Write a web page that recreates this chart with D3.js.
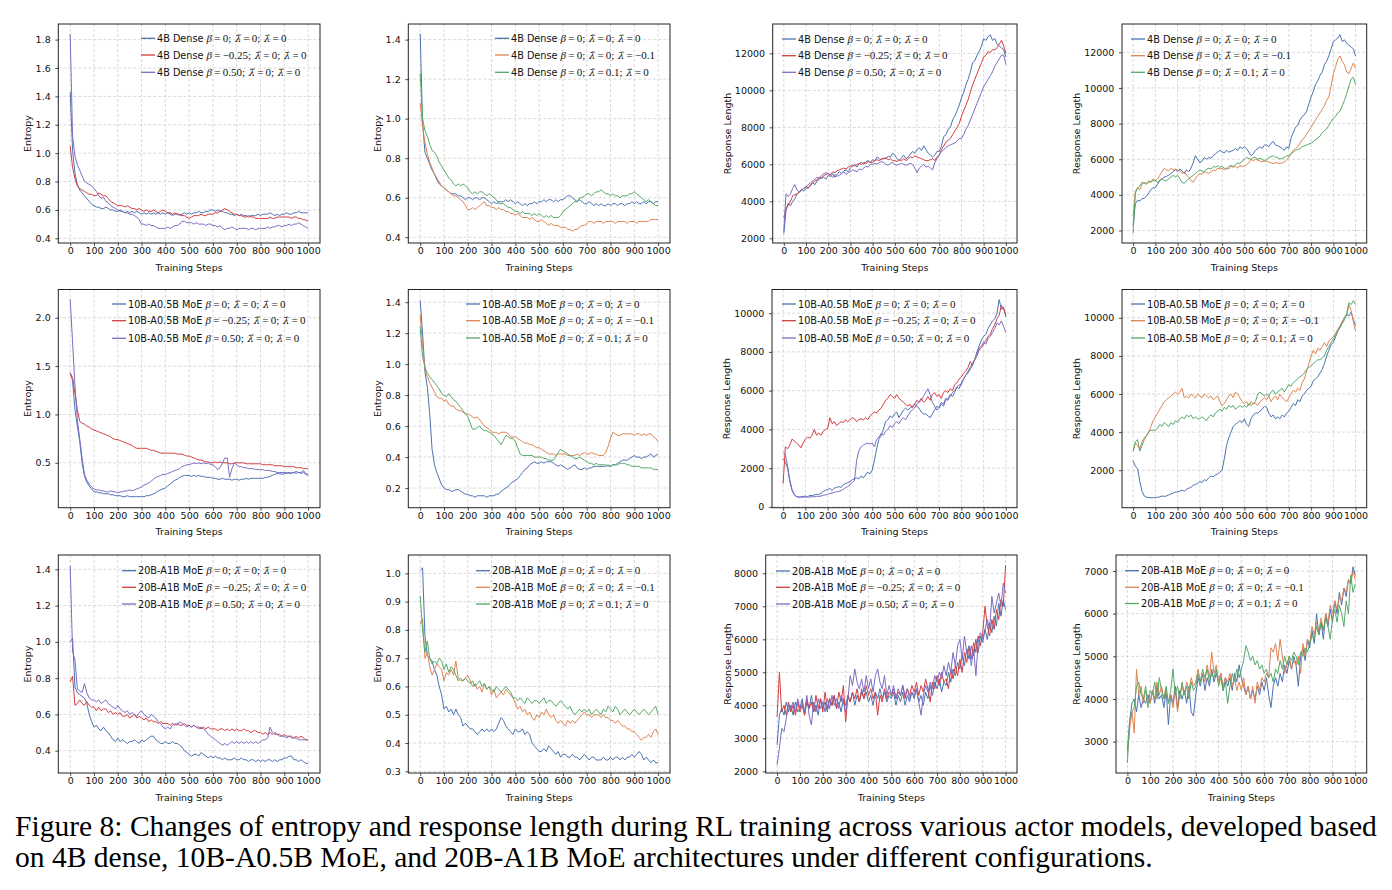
<!DOCTYPE html>
<html><head><meta charset="utf-8">
<script src="https://cdn.jsdelivr.net/npm/d3@7"></script>
<style>body{margin:0;background:#fff}svg{display:block}</style>
</head><body>
<svg id="c" width="1392" height="890"></svg>
<script>
const STEPS=[0,10,20,30,40,50,60,70,80,90,100,110,120,130,140,150,160,170,180,190,200,210,220,230,240,250,260,270,280,290,300,310,320,330,340,350,360,370,380,390,400,410,420,430,440,450,460,470,480,490,500,510,520,530,540,550,560,570,580,590,600,610,620,630,640,650,660,670,680,690,700,710,720,730,740,750,760,770,780,790,800,810,820,830,840,850,860,870,880,890,900,910,920,930,940,950,960,970,980,990,1000];
const X_TICKS=[0,100,200,300,400,500,600,700,800,900,1000];
const X_LABEL="Training Steps";
const MODELS=["4B Dense","10B-A0.5B MoE","20B-A1B MoE"];

// ---------- Row 1: 4B Dense ----------
const P1_BLUE=[1.43,1.02,.86,.78,.74,.72,.70,.68,.66,.64,
.63,.62,.62,.61,.61,.62,.61,.60,.60,.59,
.59,.60,.59,.58,.59,.58,.59,.58,.59,.58,
.57,.58,.57,.58,.57,.58,.57,.58,.57,.58,
.57,.58,.57,.56,.57,.57,.56,.57,.58,.57,
.58,.57,.58,.58,.59,.58,.58,.59,.59,.60,
.60,.59,.60,.59,.59,.58,.58,.57,.57,.56,
.57,.56,.57,.56,.56,.55,.56,.56,.56,.57,
.56,.57,.57,.57,.58,.57,.56,.57,.56,.57,
.57,.58,.57,.57,.58,.58,.59,.58,.58,.58,.58];
const P1_RED=[1.05,.90,.82,.77,.75,.74,.73,.72,.71,.71,
.70,.70,.72,.71,.70,.70,.68,.66,.65,.64,
.63,.63,.63,.62,.63,.62,.61,.61,.60,.61,
.60,.59,.60,.59,.59,.60,.59,.58,.59,.60,
.59,.58,.58,.57,.58,.57,.57,.56,.56,.55,
.54,.55,.56,.56,.56,.57,.56,.56,.57,.57,
.57,.58,.58,.59,.60,.61,.60,.59,.58,.57,
.57,.56,.56,.55,.55,.56,.55,.55,.54,.54,
.54,.54,.54,.54,.55,.54,.54,.55,.55,.55,
.55,.55,.55,.54,.55,.55,.54,.54,.53,.53,.52];
const P1_PURPLE=[1.84,1.12,.98,.92,.88,.84,.80,.79,.78,.77,
.75,.73,.70,.68,.69,.66,.65,.63,.62,.61,
.60,.59,.59,.58,.58,.57,.57,.56,.55,.53,
.50,.50,.49,.50,.49,.49,.48,.47,.47,.47,
.47,.48,.47,.48,.49,.49,.50,.52,.52,.51,
.51,.51,.50,.51,.50,.50,.50,.49,.50,.50,
.49,.49,.48,.49,.47,.46,.47,.47,.48,.47,
.46,.47,.47,.47,.47,.46,.47,.47,.46,.47,
.47,.47,.47,.48,.47,.48,.48,.49,.49,.48,
.49,.49,.50,.49,.50,.50,.51,.50,.49,.48,.47];

const P2_BLUE=[1.43,.98,.83,.80,.77,.74,.72,.69,.67,.66,
.65,.64,.63,.62,.62,.62,.61,.61,.60,.59,
.60,.60,.59,.60,.60,.59,.60,.60,.59,.58,
.57,.58,.57,.58,.58,.58,.59,.58,.59,.58,
.57,.58,.57,.56,.57,.56,.57,.57,.58,.57,
.58,.58,.59,.58,.59,.59,.58,.59,.58,.59,
.59,.60,.61,.61,.60,.59,.58,.59,.58,.57,
.57,.58,.57,.56,.57,.56,.57,.56,.56,.57,
.56,.57,.57,.56,.57,.57,.56,.57,.57,.58,
.57,.58,.57,.57,.58,.57,.58,.58,.57,.58,.58];
const P2_ORANGE=[1.08,.96,.88,.82,.78,.75,.72,.70,.68,.66,
.65,.64,.63,.62,.61,.61,.60,.59,.58,.56,
.54,.54,.55,.54,.55,.56,.57,.58,.56,.56,
.55,.55,.54,.55,.54,.54,.53,.53,.52,.52,
.51,.52,.51,.50,.50,.50,.49,.50,.49,.48,
.48,.49,.48,.47,.46,.47,.46,.46,.46,.45,
.45,.45,.44,.44,.43,.44,.44,.45,.46,.46,
.47,.48,.48,.47,.48,.48,.48,.47,.48,.48,
.48,.48,.47,.48,.48,.48,.48,.47,.48,.48,
.48,.47,.48,.48,.48,.48,.48,.49,.49,.49,.49];
const P2_GREEN=[1.23,1.00,.94,.91,.87,.84,.83,.81,.78,.76,
.74,.72,.70,.69,.67,.66,.67,.66,.67,.66,
.65,.63,.62,.63,.62,.63,.63,.62,.61,.62,
.61,.60,.59,.57,.57,.57,.56,.55,.55,.54,
.53,.53,.52,.53,.52,.52,.52,.51,.52,.51,
.52,.51,.50,.51,.50,.51,.50,.50,.50,.51,
.53,.54,.55,.56,.57,.58,.58,.60,.60,.61,
.62,.62,.61,.62,.63,.63,.64,.63,.62,.62,
.61,.62,.61,.61,.60,.61,.61,.61,.62,.62,
.63,.62,.61,.60,.59,.58,.59,.58,.57,.56,.56];

const P3_BLUE=[2250,3500,3900,3750,4000,4150,4400,4500,4650,4550,
4700,4750,4850,5000,4900,5100,5200,5250,5300,5200,
5400,5350,5500,5300,5450,5600,5500,5650,5700,5600,
5800,5900,6000,5850,6050,6100,6000,6150,6200,6100,
6250,6200,6400,6300,6250,6350,6300,6450,6400,6600,
6500,6300,6200,6350,6500,6300,6400,6550,6700,6600,
6800,6900,6750,7000,6800,6600,6500,6400,6500,6700,
6700,7000,7500,7600,7900,8000,8400,8600,8900,9200,
9600,9900,10300,10600,11000,11500,11600,11900,12100,12400,
12800,12700,12900,13000,12700,12800,12500,12400,12300,12200,11800];
const P3_RED=[3100,3600,3800,4000,4300,4350,4400,4500,4600,4700,
4800,4700,4900,5000,5100,5150,5300,5250,5400,5450,
5500,5450,5600,5550,5650,5700,5750,5800,5750,5850,
5900,5950,5900,6000,6050,6000,6100,6050,6150,6100,
6100,6200,6250,6200,6300,6300,6350,6250,6300,6200,
6200,6150,6250,6200,6300,6200,6300,6400,6350,6450,
6400,6350,6300,6250,6200,6200,6250,6300,6200,6400,
6500,6800,7000,7200,7300,7400,7600,7800,8000,8200,
8600,8900,9200,9500,9900,10300,10600,10900,11200,11500,
11800,11900,12100,12050,12200,12200,12300,12500,12700,12400,12000];
const P3_PURPLE=[2400,4400,4250,4400,4700,4900,4600,4500,4600,4700,
4750,4900,5000,5100,5200,5300,5250,5400,5500,5550,
5500,5400,5300,5450,5350,5400,5500,5600,5450,5550,
5600,5700,5650,5600,5750,5700,5800,5900,5850,6000,
6000,6050,6000,6100,6150,6100,6000,5950,6050,6100,
6000,5950,6000,6050,6000,5950,6000,6050,6000,5800,
5550,5800,5900,6000,5850,5900,5800,5700,6100,6300,
6500,6700,6800,6900,7000,7050,7100,7150,7250,7400,
7400,7600,7900,8100,8400,8700,9000,9300,9600,9900,
10200,10400,10600,10800,11000,11300,11500,11700,11900,11900,11400];

const P4_BLUE=[2300,3500,3700,3650,3800,3800,3950,4100,4300,4400,
4400,4600,4800,4900,5000,5050,5100,5200,5300,5400,
5300,5450,5350,5200,5400,5300,5500,5800,6200,6000,
5800,5900,6100,6000,6100,6050,6200,6300,6400,6500,
6400,6350,6500,6400,6450,6500,6600,6500,6700,6600,
6700,6600,6400,6200,6300,6500,6600,6700,6600,6800,
6800,6700,6900,7000,6800,6750,6700,6600,6500,6700,
6600,7200,7500,7800,7900,8200,8400,8500,8700,9100,
9500,9800,10200,10400,10700,10900,11300,11500,11800,12200,
12600,12700,12800,13000,12600,12700,12500,12400,12300,12200,11800];
const P4_ORANGE=[2800,4200,4400,4300,4600,4700,4650,4800,4700,4900,
4800,4900,5100,5300,5500,5400,5350,5500,5400,5450,
5400,5350,5200,5300,5100,5000,4800,4700,4900,5100,
5200,5150,5300,5250,5200,5300,5400,5350,5500,5450,
5500,5400,5500,5450,5600,5550,5600,5500,5650,5600,
5600,5700,5800,6000,5900,6000,5950,5900,5850,5900,
5900,5850,5800,5750,5800,5800,5750,5800,5850,5950,
6100,6300,6500,6600,6700,6900,7100,7200,7400,7600,
7800,8000,8200,8400,8600,8800,9000,9300,9500,10100,
10800,11200,11600,11800,11500,11300,10900,10800,11100,11400,11100];
const P4_GREEN=[1850,4100,4400,4500,4700,4650,4600,4700,4750,4800,
4800,4700,4850,4900,4800,4800,4900,5000,5100,5000,
5100,4900,4700,4650,4800,4900,5000,5100,5200,5300,
5400,5350,5300,5450,5500,5450,5600,5550,5650,5550,
5600,5500,5450,5600,5650,5600,5700,5800,5750,5900,
6000,6100,6050,6000,6100,6100,6000,6050,6000,5900,
6000,6100,6150,6200,6100,6100,6000,6050,6100,6200,
6200,6300,6400,6500,6550,6600,6700,6750,6800,6850,
6900,7000,7100,7200,7300,7500,7600,7700,7900,8100,
8300,8400,8600,8700,9000,9300,9700,10100,10500,10600,10200];

// ---------- Row 2: 10B-A0.5B MoE ----------
const P5_BLUE=[1.43,1.35,1.05,.88,.72,.50,.36,.30,.26,.23,
.20,.20,.19,.19,.18,.18,.18,.17,.17,.16,
.16,.16,.15,.15,.16,.15,.15,.15,.15,.15,
.15,.15,.16,.16,.17,.18,.19,.21,.22,.23,
.24,.26,.28,.30,.32,.33,.35,.36,.37,.37,
.37,.36,.37,.36,.37,.36,.36,.35,.35,.35,
.34,.34,.33,.33,.34,.33,.33,.33,.32,.33,
.33,.32,.33,.33,.34,.33,.34,.34,.34,.34,
.34,.34,.35,.35,.36,.37,.38,.39,.39,.38,
.39,.39,.40,.39,.40,.41,.40,.40,.42,.39,.38];
const P5_RED=[1.43,1.38,1.22,1.05,.93,.91,.90,.88,.87,.85,
.84,.83,.82,.81,.80,.79,.78,.77,.75,.74,
.74,.73,.72,.71,.70,.69,.68,.66,.65,.65,
.65,.65,.65,.64,.63,.63,.62,.61,.60,.60,
.60,.60,.60,.60,.60,.59,.59,.59,.58,.57,
.57,.56,.55,.54,.53,.53,.52,.51,.51,.50,
.50,.51,.50,.51,.50,.50,.50,.49,.49,.50,
.50,.50,.50,.50,.49,.49,.49,.49,.49,.49,
.49,.48,.48,.48,.48,.48,.47,.47,.47,.47,
.46,.46,.46,.46,.46,.45,.45,.45,.44,.44,.44];
const P5_PURPLE=[2.19,1.75,1.30,.95,.75,.55,.38,.32,.28,.25,
.23,.22,.22,.21,.21,.20,.20,.21,.20,.20,
.19,.20,.20,.21,.21,.22,.21,.22,.23,.24,
.25,.27,.28,.29,.31,.33,.35,.36,.37,.38,
.38,.39,.40,.41,.42,.43,.44,.46,.47,.48,
.48,.49,.50,.49,.50,.49,.50,.49,.50,.48,
.48,.46,.43,.45,.50,.55,.55,.35,.44,.50,
.48,.46,.46,.45,.45,.44,.44,.44,.43,.43,
.43,.43,.42,.42,.42,.41,.41,.40,.40,.40,
.40,.40,.39,.40,.40,.39,.40,.39,.40,.38,.37];

const P6_BLUE=[1.41,1.20,.95,.85,.68,.45,.35,.30,.26,.22,
.20,.19,.19,.18,.18,.19,.19,.18,.17,.16,
.16,.15,.15,.14,.15,.15,.15,.15,.14,.15,
.15,.15,.16,.16,.18,.19,.20,.21,.23,.24,
.25,.26,.28,.30,.32,.33,.35,.36,.37,.36,
.36,.37,.36,.37,.37,.37,.36,.35,.34,.35,
.34,.33,.32,.33,.34,.35,.33,.32,.32,.33,
.32,.33,.33,.34,.34,.34,.34,.34,.34,.35,
.34,.35,.35,.36,.37,.38,.38,.38,.39,.40,
.41,.40,.40,.39,.40,.40,.41,.42,.40,.41,.42];
const P6_ORANGE=[1.32,1.12,.97,.92,.88,.85,.82,.79,.78,.78,
.76,.77,.74,.73,.73,.71,.70,.70,.69,.68,
.68,.67,.66,.65,.66,.64,.62,.60,.59,.58,
.56,.56,.56,.55,.56,.56,.56,.55,.53,.53,
.53,.52,.51,.50,.49,.49,.48,.48,.47,.46,
.46,.45,.44,.43,.42,.42,.42,.41,.42,.42,
.42,.42,.41,.41,.41,.41,.42,.41,.42,.43,
.42,.42,.43,.42,.42,.41,.41,.41,.43,.47,
.52,.56,.55,.54,.54,.55,.55,.55,.55,.55,
.54,.55,.55,.54,.55,.54,.55,.55,.53,.52,.50];
const P6_GREEN=[1.24,1.05,.98,.94,.92,.90,.88,.86,.84,.81,
.80,.79,.81,.79,.77,.76,.74,.72,.70,.68,
.66,.62,.58,.58,.59,.60,.58,.57,.57,.56,
.55,.54,.52,.50,.48,.51,.54,.53,.52,.52,
.50,.46,.42,.41,.41,.41,.41,.41,.40,.40,
.40,.40,.39,.39,.38,.38,.38,.40,.43,.45,
.44,.43,.42,.41,.40,.39,.39,.40,.39,.38,
.37,.36,.36,.35,.36,.35,.35,.35,.35,.34,
.34,.35,.35,.35,.36,.36,.36,.35,.35,.34,
.34,.34,.34,.33,.33,.33,.33,.33,.32,.32,.32];

const P7_BLUE=[2500,2300,2000,1300,850,620,520,500,520,540,
560,520,600,580,620,650,640,700,800,850,
900,950,850,980,1000,1050,1000,1150,1200,1250,
1300,1400,1450,1500,1450,1600,1500,1650,1800,1700,
1900,2400,3000,3500,3700,4000,4400,4500,4700,4600,
4800,4900,4600,4800,5000,5100,5000,5100,5200,5300,
5200,5100,4900,4800,4800,4700,4600,4800,5000,5200,
5100,5400,5300,5600,5500,5800,5700,5900,6200,6100,
6400,6600,6800,7000,7200,7400,7600,8000,8300,8600,
8800,8900,9200,9400,9600,9700,10000,10700,10200,10300,9800];
const P7_RED=[1200,3100,3000,3200,3500,3400,3300,3200,3050,3300,
3500,3600,3550,3700,4000,3700,3800,3700,3900,4000,
4050,4600,4300,4400,4200,4300,4400,4350,4500,4400,
4500,4600,4550,4400,4500,4550,4500,4600,4500,4700,
4800,4900,4850,5000,5100,5300,5500,5600,5800,5700,
5600,5800,5600,5500,5400,5300,5200,5300,5100,5300,
5500,5400,5600,5400,5500,5700,5500,5800,5900,5700,
5800,5600,5900,6000,5900,6100,6000,6300,6400,6600,
6700,6900,7000,7200,7500,7300,7600,7800,8100,8200,
8400,8600,8800,8900,9200,9400,9700,9900,10400,10200,9900];
const P7_PURPLE=[2800,2700,2100,1400,900,650,550,520,500,510,
500,520,510,530,520,550,540,560,600,620,
650,700,720,750,780,800,850,900,1000,1050,
1150,1250,1350,2400,2900,3100,3200,3250,3300,3250,
3300,3100,3500,3600,3800,3700,3900,4000,4200,4100,
4300,4400,4300,4500,4600,4500,4700,4900,5000,5100,
5300,5400,5500,5700,5900,6100,5800,5400,5200,5000,
5100,5300,5200,5500,5600,5700,5900,6000,6200,6300,
6300,6600,6800,6900,7100,7300,7600,7800,8200,8300,
8500,8400,8700,8800,9000,9200,9500,9400,9600,9300,9000];

const P8_BLUE=[2500,2200,2100,1400,900,650,580,560,550,560,
550,580,600,650,620,650,700,750,800,850,
850,900,950,900,1000,1050,1100,1200,1250,1300,
1400,1350,1500,1450,1600,1700,1650,1750,1800,1900,
2000,2600,3300,3700,4000,4300,4400,4500,4600,4500,
4700,4400,4300,4700,4900,5000,5000,5100,5200,5350,
5300,5000,4800,4900,4700,4800,4700,4900,4800,5000,
5100,5300,5500,5400,5700,5600,5900,6000,6200,6300,
6400,6700,6800,6900,7100,7300,7600,8000,8300,8600,
8700,9000,9300,9500,9800,10000,10200,10100,10300,9900,9600];
const P8_ORANGE=[3000,3400,3300,3100,3500,3700,3800,4000,4300,4600,
4800,5000,5200,5400,5600,5700,5800,5900,6000,6100,
6000,6100,6300,5800,5900,5800,6000,5900,5800,6000,
5900,5800,6000,5900,5800,5900,5700,5800,5900,5600,
5400,5500,5700,5900,6000,5800,6100,6000,5800,5600,
5500,5600,5400,5600,5500,5500,5400,5600,5700,5800,
5700,5900,5600,5800,5900,5700,6000,5800,5700,5600,
5800,6000,6200,6100,6300,6200,6600,6800,7200,7600,
8000,8300,8100,8400,8300,8500,8700,8500,8800,8900,
9000,9200,9400,9600,9800,10000,10100,10700,10400,9800,9300];
const P8_GREEN=[3000,3500,3600,3000,3300,3600,3800,4000,4100,4100,
4100,4200,4400,4300,4500,4400,4300,4500,4400,4600,
4500,4700,4800,4700,4900,4800,4900,4700,4800,4700,
4700,4800,4700,4600,4800,4900,4800,5000,5100,5200,
5100,5300,5200,5400,5300,5400,5200,5300,5400,5300,
5400,5300,5500,5400,5500,5600,6000,6100,6000,5900,
6000,5900,6100,6200,6000,6100,6200,6300,6100,6300,
6500,6400,6600,6700,6800,6900,7000,7100,7300,7400,
7500,7600,7700,7800,7800,7900,8000,8300,8500,8700,
8900,9100,9300,9500,9700,9900,10200,10800,10700,10900,10700];

// ---------- Row 3: 20B-A1B MoE ----------
const P9_BLUE=[1.00,1.02,.75,.72,.71,.70,.69,.66,.60,.56,
.53,.54,.52,.51,.53,.51,.50,.48,.46,.45,
.47,.45,.46,.45,.44,.45,.45,.46,.45,.44,
.46,.45,.46,.47,.48,.48,.46,.45,.44,.44,
.45,.44,.44,.45,.44,.44,.43,.42,.40,.39,
.38,.37,.38,.38,.37,.39,.38,.37,.36,.37,
.36,.37,.36,.36,.35,.36,.35,.35,.35,.36,
.35,.35,.36,.35,.35,.34,.35,.35,.34,.35,
.34,.35,.34,.35,.35,.34,.35,.34,.35,.35,
.36,.36,.37,.37,.35,.35,.34,.35,.34,.33,.33];
const P9_RED=[.78,.81,.65,.66,.68,.66,.65,.67,.65,.64,
.64,.62,.64,.62,.63,.63,.61,.62,.60,.61,
.60,.61,.59,.59,.60,.58,.59,.60,.58,.59,
.58,.57,.58,.56,.57,.56,.56,.55,.56,.55,
.55,.55,.54,.55,.54,.55,.54,.54,.55,.54,
.54,.53,.54,.53,.53,.52,.53,.52,.53,.52,
.52,.52,.51,.52,.52,.51,.52,.51,.52,.51,
.52,.51,.51,.52,.51,.51,.50,.51,.51,.50,
.50,.49,.50,.49,.50,.49,.50,.49,.49,.48,
.49,.48,.48,.48,.47,.48,.47,.48,.47,.46,.46];
const P9_PURPLE=[1.42,.95,.90,.74,.73,.72,.77,.72,.69,.68,
.68,.67,.68,.66,.67,.68,.66,.65,.64,.63,
.65,.63,.62,.61,.62,.60,.61,.60,.59,.61,
.62,.60,.59,.58,.60,.59,.58,.56,.55,.53,
.52,.53,.52,.54,.55,.54,.56,.55,.54,.53,
.54,.53,.54,.53,.52,.53,.52,.51,.49,.48,
.47,.46,.45,.44,.43,.44,.43,.44,.45,.44,
.45,.44,.45,.44,.45,.44,.45,.44,.45,.44,
.45,.46,.46,.47,.53,.50,.49,.49,.48,.48,
.48,.47,.48,.47,.47,.47,.46,.46,.46,.46,.46];

const P10_BLUE=[1.01,1.02,.78,.71,.70,.69,.66,.64,.60,.57,
.52,.53,.51,.52,.50,.52,.50,.49,.46,.47,
.46,.45,.45,.44,.43,.44,.45,.44,.45,.44,
.45,.44,.45,.47,.49,.48,.46,.45,.44,.43,
.45,.44,.44,.45,.43,.44,.43,.40,.39,.38,
.37,.37,.38,.37,.39,.38,.37,.36,.37,.35,
.36,.36,.35,.35,.36,.35,.35,.34,.35,.36,
.35,.34,.35,.35,.34,.34,.34,.35,.34,.34,
.35,.34,.35,.35,.34,.35,.34,.35,.35,.36,
.35,.36,.37,.36,.34,.35,.34,.33,.34,.33,.33];
const P10_ORANGE=[.82,.84,.70,.72,.67,.64,.66,.68,.67,.66,
.62,.65,.64,.66,.64,.69,.63,.62,.62,.63,
.64,.62,.60,.61,.59,.60,.58,.61,.59,.60,
.57,.59,.56,.57,.58,.57,.59,.58,.57,.56,
.54,.52,.53,.51,.52,.50,.51,.49,.48,.50,
.49,.51,.50,.52,.50,.49,.50,.48,.47,.48,
.47,.46,.48,.47,.48,.47,.48,.49,.50,.51,
.50,.50,.49,.50,.50,.50,.49,.50,.49,.49,
.48,.48,.47,.48,.47,.46,.46,.45,.45,.44,
.44,.43,.42,.41,.42,.42,.43,.42,.44,.45,.43];
const P10_GREEN=[.92,.80,.72,.76,.70,.68,.69,.68,.70,.69,
.66,.68,.65,.67,.66,.64,.62,.63,.62,.63,
.62,.61,.62,.60,.61,.62,.60,.61,.59,.60,
.59,.58,.60,.59,.58,.59,.60,.59,.58,.56,
.56,.55,.56,.55,.54,.56,.55,.54,.55,.55,
.54,.55,.56,.54,.55,.55,.54,.53,.54,.55,
.54,.53,.52,.53,.51,.50,.51,.52,.51,.52,
.51,.52,.50,.51,.52,.51,.50,.52,.51,.53,
.52,.51,.53,.52,.50,.51,.52,.51,.50,.51,
.52,.51,.50,.51,.52,.51,.50,.51,.52,.53,.50];

const P11_BLUE=[2800,3700,3900,3700,4100,3800,4000,3700,4100,3800,
3900,4200,3700,4100,3900,4300,3800,4000,3700,4200,
3900,4100,3800,4200,4000,4300,3900,4100,3800,4200,
4000,4300,4100,4400,4000,4300,4100,4500,4200,4400,
4100,4300,4000,4400,4200,4500,4200,4400,4100,4300,
4200,4400,4000,4300,4100,4400,4000,4300,4100,4400,
4200,4500,4100,4300,4000,4400,4200,4600,4300,4700,
4500,4800,4400,4700,4600,5000,4700,5100,4900,5300,
5100,5500,5200,5700,5400,5800,5500,6000,5600,6100,
5900,6300,6000,6500,6200,6700,6400,7100,6700,7200,6900];
const P11_RED=[3650,5000,3800,4000,3700,4100,3800,4000,3700,4100,
3800,4000,3700,4200,3900,4100,3800,4300,3900,4200,
3800,4400,3900,4200,4000,4300,3900,4400,4100,4600,
3500,4300,4100,4400,4200,4500,4100,4400,4200,4600,
4300,4500,4200,4400,3700,4300,4100,4500,4200,4400,
4300,4500,4200,4400,4300,4600,4200,4500,4300,4600,
4400,4700,4300,4600,4400,4800,4500,4100,4700,4500,
4900,4600,5000,4700,4800,4500,5100,4800,5200,4900,
5400,5000,5600,5300,5800,5400,5900,5600,6100,5800,
6200,7000,6400,6100,6600,6300,6900,6600,7200,7000,8250];
const P11_PURPLE=[2200,2700,3300,3200,3600,4000,3900,4100,3800,4200,
3900,4100,3800,4300,3700,3400,4100,3800,4200,3900,
4100,3800,4200,3900,4300,4000,4200,3900,4300,4100,
3800,4200,4900,4600,5100,4700,4500,4800,4400,4900,
4500,4800,4400,4900,5100,4700,4500,4900,4300,4600,
4300,4600,4200,4500,4300,4600,4300,4500,4200,4400,
4300,4500,4100,3700,4300,4600,4400,4700,4500,4900,
4700,5000,4800,5200,4900,5300,5000,5600,5200,5800,
6000,5400,6100,5600,5800,5200,5700,4900,5900,6200,
6000,6300,6600,6300,7300,6800,7100,7400,7000,7700,7400];

const P12_BLUE=[2800,3500,3900,4000,3700,4100,3800,4000,3900,4100,
3900,4200,3900,4300,4000,4100,3800,4200,3400,4100,
3900,4300,3800,4200,4000,4200,3900,4300,3700,3600,
4100,4500,4300,4600,4200,4500,4300,4700,4400,4600,
4400,4600,4200,4500,4300,4500,4200,4600,4400,4800,
4500,4300,4100,4300,4000,4200,4000,4300,4100,4400,
4200,4500,4100,3800,4300,4500,4300,4600,4400,4800,
4600,4900,4700,5000,4800,4300,5000,5200,4900,5400,
5200,5600,5300,6000,5500,5800,5400,6000,5700,6100,
5800,6300,6000,6500,6200,6600,6400,6800,6700,7100,6900];
const P12_ORANGE=[2700,3300,3700,3200,4700,4100,4300,3900,4200,4000,
3900,4200,4000,4400,4100,4300,4000,4200,3900,4100,
3800,4200,3700,4100,4300,4100,4400,4200,4500,4300,
4400,4700,4400,4600,4400,4800,4500,5100,4600,4800,
4400,4600,4300,4500,4400,4600,4300,4500,4200,4400,
4200,4500,4100,4300,4000,4300,3900,4400,4200,4500,
4400,4600,4500,5200,5100,5300,4900,5400,5000,4600,
4800,5000,4700,4900,4800,5000,4600,5300,5000,5400,
5300,5700,5500,5800,5600,5900,5600,6000,5800,6200,
6000,6300,6100,6400,6300,6600,6500,6800,6700,7000,6800];
const P12_GREEN=[2500,3500,3700,3800,4300,4400,4100,4000,4300,3800,
4200,4100,4400,4000,4500,4200,4000,4300,3900,4200,
4700,4100,4300,4000,4400,4100,4300,4000,4400,4200,
4300,4600,4400,4700,4500,4700,4400,4600,4500,4700,
4300,4500,4200,4400,3900,4300,4600,4400,4700,4500,
4700,4900,5250,5100,4900,5000,4800,4900,4700,4800,
4600,4700,4500,4600,4400,4700,4600,4900,4700,5000,
4800,5000,4900,5100,5000,4800,5100,5000,5200,5100,
5300,5500,5400,5700,5500,5800,5600,5900,5700,5400,
5900,6100,5800,6200,6000,5700,6300,6000,6900,6500,6700];

// ---------- tick values ----------
const T_P1=[0.4,0.6,0.8,1.0,1.2,1.4,1.6,1.8];
const T_P2=[0.4,0.6,0.8,1.0,1.2,1.4];
const T_P34=[2000,4000,6000,8000,10000,12000];
const T_P5=[0.5,1.0,1.5,2.0];
const T_P6=[0.2,0.4,0.6,0.8,1.0,1.2,1.4];
const T_P7=[0,2000,4000,6000,8000,10000];
const T_P8=[2000,4000,6000,8000,10000];
const T_P9=[0.4,0.6,0.8,1.0,1.2,1.4];
const T_P10=[0.3,0.4,0.5,0.6,0.7,0.8,0.9,1.0];
const T_P11=[2000,3000,4000,5000,6000,7000,8000];
const T_P12=[3000,4000,5000,6000,7000];

const BLUE="#4c72b0",RED="#d43d3f",PURPLE="#7b6dc4",ORANGE="#dd8452",GREEN="#55a868";
// legend configs: [beta, lambdaTilde, lambdaHat]
const CFG_A=["0","0","0"],CFG_B=["\u22120.25","0","0"],CFG_C=["0.50","0","0"],CFG_D=["0","0","\u22120.1"],CFG_E=["0","0.1","0"];

const R1=[24,243],R2=[289.5,507.7],R3=[555,773];
const panels=[
 {box:[58.3,320,...R1],dom:[0.367,1.91],ticks:T_P1,fmt:".1f",yl:"Entropy",ylx:30.5,m:0,
  s:[[P1_BLUE,BLUE,CFG_A],[P1_RED,RED,CFG_B],[P1_PURPLE,PURPLE,CFG_C]],lg:[141,157,[38.3,55,72.3]]},
 {box:[408.3,670,...R1],dom:[0.371,1.479],ticks:T_P2,fmt:".1f",yl:"Entropy",ylx:380.5,m:0,
  s:[[P2_BLUE,BLUE,CFG_A],[P2_ORANGE,ORANGE,CFG_D],[P2_GREEN,GREEN,CFG_E]],lg:[495,511,[38.3,55,72.3]]},
 {box:[772.7,1017,...R1],dom:[1745,13590],ticks:T_P34,fmt:"d",yl:"Response Length",ylx:731,m:0,
  s:[[P3_BLUE,BLUE,CFG_A],[P3_RED,RED,CFG_B],[P3_PURPLE,PURPLE,CFG_C]],lg:[782,798,[39,55.7,72.3]]},
 {box:[1122,1366.7,...R1],dom:[1300,13590],ticks:T_P34,fmt:"d",yl:"Response Length",ylx:1080,m:0,
  s:[[P4_BLUE,BLUE,CFG_A],[P4_ORANGE,ORANGE,CFG_D],[P4_GREEN,GREEN,CFG_E]],lg:[1131,1147,[39,55.7,72.3]]},
 {box:[58.3,320,...R2],dom:[0.036,2.292],ticks:T_P5,fmt:".1f",yl:"Entropy",ylx:30.5,m:1,
  s:[[P5_BLUE,BLUE,CFG_A],[P5_RED,RED,CFG_B],[P5_PURPLE,PURPLE,CFG_C]],lg:[112,128,[304,320.7,338.3]]},
 {box:[408.3,670,...R2],dom:[0.073,1.482],ticks:T_P6,fmt:".1f",yl:"Entropy",ylx:380.5,m:1,
  s:[[P6_BLUE,BLUE,CFG_A],[P6_ORANGE,ORANGE,CFG_D],[P6_GREEN,GREEN,CFG_E]],lg:[466,482,[304,320.7,338]]},
 {box:[772,1017,...R2],dom:[-40,11220],ticks:T_P7,fmt:"d",yl:"Response Length",ylx:730,m:1,
  s:[[P7_BLUE,BLUE,CFG_A],[P7_RED,RED,CFG_B],[P7_PURPLE,PURPLE,CFG_C]],lg:[782,798,[304,320.7,338]]},
 {box:[1122,1366.7,...R2],dom:[30,11490],ticks:T_P8,fmt:"d",yl:"Response Length",ylx:1080,m:1,
  s:[[P8_BLUE,BLUE,CFG_A],[P8_ORANGE,ORANGE,CFG_D],[P8_GREEN,GREEN,CFG_E]],lg:[1131,1147,[304,320.7,338]]},
 {box:[58.3,320,...R3],dom:[0.277,1.479],ticks:T_P9,fmt:".1f",yl:"Entropy",ylx:30.5,m:2,
  s:[[P9_BLUE,BLUE,CFG_A],[P9_RED,RED,CFG_B],[P9_PURPLE,PURPLE,CFG_C]],lg:[122,138,[570.7,587.3,604]]},
 {box:[408.3,670,...R3],dom:[0.294,1.065],ticks:T_P10,fmt:".1f",yl:"Entropy",ylx:380.5,m:2,
  s:[[P10_BLUE,BLUE,CFG_A],[P10_ORANGE,ORANGE,CFG_D],[P10_GREEN,GREEN,CFG_E]],lg:[476,492,[570.7,587.3,604]]},
 {box:[765.7,1017,...R3],dom:[1948,8555],ticks:T_P11,fmt:"d",yl:"Response Length",ylx:731,m:2,
  s:[[P11_BLUE,BLUE,CFG_A],[P11_RED,RED,CFG_B],[P11_PURPLE,PURPLE,CFG_C]],lg:[776,792,[571,587.3,604]]},
 {box:[1116,1366.7,...R3],dom:[2266,7375],ticks:T_P12,fmt:"d",yl:"Response Length",ylx:1080,m:2,
  s:[[P12_BLUE,BLUE,CFG_A],[P12_ORANGE,ORANGE,CFG_D],[P12_GREEN,GREEN,CFG_E]],lg:[1125,1141,[570.7,587.3,603.5]]}
];

const SANS="DejaVu Sans",SERIF="Liberation Serif",MSERIF="DejaVu Serif";
const svg=d3.select("#c");
svg.append("rect").attr("width",1392).attr("height",890).attr("fill","#fff");

panels.forEach((p,pi)=>{
  const [x0,x1,y0,y1]=p.box;
  const x=d3.scaleLinear().domain([-50,1050]).range([x0,x1]);
  const y=d3.scaleLinear().domain(p.dom).range([y1,y0]);
  const g=svg.append("g");
  // grid
  const grid=g.append("g").attr("stroke","#cfcfcf").attr("stroke-width",0.8).attr("stroke-dasharray","3,2");
  grid.selectAll("line.gx").data(X_TICKS).join("line").attr("class","gx")
    .attr("x1",d=>x(d)).attr("x2",d=>x(d)).attr("y1",y0).attr("y2",y1);
  grid.selectAll("line.gy").data(p.ticks).join("line").attr("class","gy")
    .attr("x1",x0).attr("x2",x1).attr("y1",d=>y(d)).attr("y2",d=>y(d));
  // clip
  const cid="clip"+pi;
  g.append("clipPath").attr("id",cid).append("rect").attr("x",x0).attr("y",y0).attr("width",x1-x0).attr("height",y1-y0);
  const line=d3.line().x((d,i)=>x(STEPS[i])).y(d=>y(d));
  const lg=g.append("g").attr("clip-path",`url(#${cid})`);
  p.s.forEach(([vals,col])=>{
    lg.append("path").attr("d",line(vals)).attr("fill","none").attr("stroke",col)
      .attr("stroke-width",1).attr("stroke-linejoin","round");
  });
  // frame
  g.append("rect").attr("x",x0).attr("y",y0).attr("width",x1-x0).attr("height",y1-y0)
    .attr("fill","none").attr("stroke","#222").attr("stroke-width",1);
  // axes
  const ax=g.append("g").attr("transform",`translate(0,${y1})`)
    .call(d3.axisBottom(x).tickValues(X_TICKS).tickSize(3).tickPadding(1.2).tickFormat(d3.format("d")));
  const ay=g.append("g").attr("transform",`translate(${x0},0)`)
    .call(d3.axisLeft(y).tickValues(p.ticks).tickSize(3).tickPadding(4.6).tickFormat(d3.format(p.fmt)));
  [ax,ay].forEach(a=>{
    a.select(".domain").remove();
    a.attr("font-family",SANS).attr("font-size",9.5);
    a.selectAll("line").attr("stroke","#222").attr("stroke-width",0.8);
    a.selectAll("text").attr("fill","#111");
  });
  // axis labels
  g.append("text").attr("x",(x0+x1)/2).attr("y",y1+27.5).attr("text-anchor","middle")
    .attr("font-family",SANS).attr("font-size",9.5).attr("fill","#111").text(X_LABEL);
  g.append("text").attr("transform",`translate(${p.ylx},${(y0+y1)/2}) rotate(-90)`).attr("text-anchor","middle")
    .attr("font-family",SANS).attr("font-size",9.5).attr("fill","#111").text(p.yl);
  // legend
  const [lx,tx,ys]=p.lg;
  p.s.forEach(([vals,col,cfg],k)=>{
    const yy=ys[k];
    g.append("line").attr("x1",lx).attr("x2",lx+14).attr("y1",yy).attr("y2",yy)
      .attr("stroke",col).attr("stroke-width",1.3);
    const t=g.append("text").attr("x",tx).attr("y",yy+3.5).attr("fill","#111");
    t.append("tspan").attr("font-family",SANS).attr("font-size",9.7).text(MODELS[p.m]+" ");
    const mt=(s,it,f)=>t.append("tspan").attr("font-family",f||SERIF).attr("font-size",f?10:11)
      .attr("font-style",it?"italic":"normal").text(s);
    mt("\u03b2",1); mt("\u2009=\u2009"+cfg[0]+";\u2004",0);
    mt("\u03bb\u0303",1,MSERIF); mt("\u2009=\u2009"+cfg[1]+";\u2004",0);
    mt("\u03bb\u0302",1,MSERIF); mt("\u2009=\u2009"+cfg[2],0);
  });
});

// caption
const CAP1="Figure 8: Changes of entropy and response length during RL training across various actor models, developed based";
const CAP2="on 4B dense, 10B-A0.5B MoE, and 20B-A1B MoE architectures under different configurations.";
const c1=svg.append("text").attr("x",15).attr("y",836).attr("font-family",SERIF).attr("font-size",27).attr("fill","#000").text(CAP1);
const w=c1.node().getComputedTextLength();
const fs=27*1362/w;
c1.attr("font-size",fs);
svg.append("text").attr("x",15).attr("y",867).attr("font-family",SERIF).attr("font-size",fs).attr("fill","#000").text(CAP2);
</script>
</body></html>
